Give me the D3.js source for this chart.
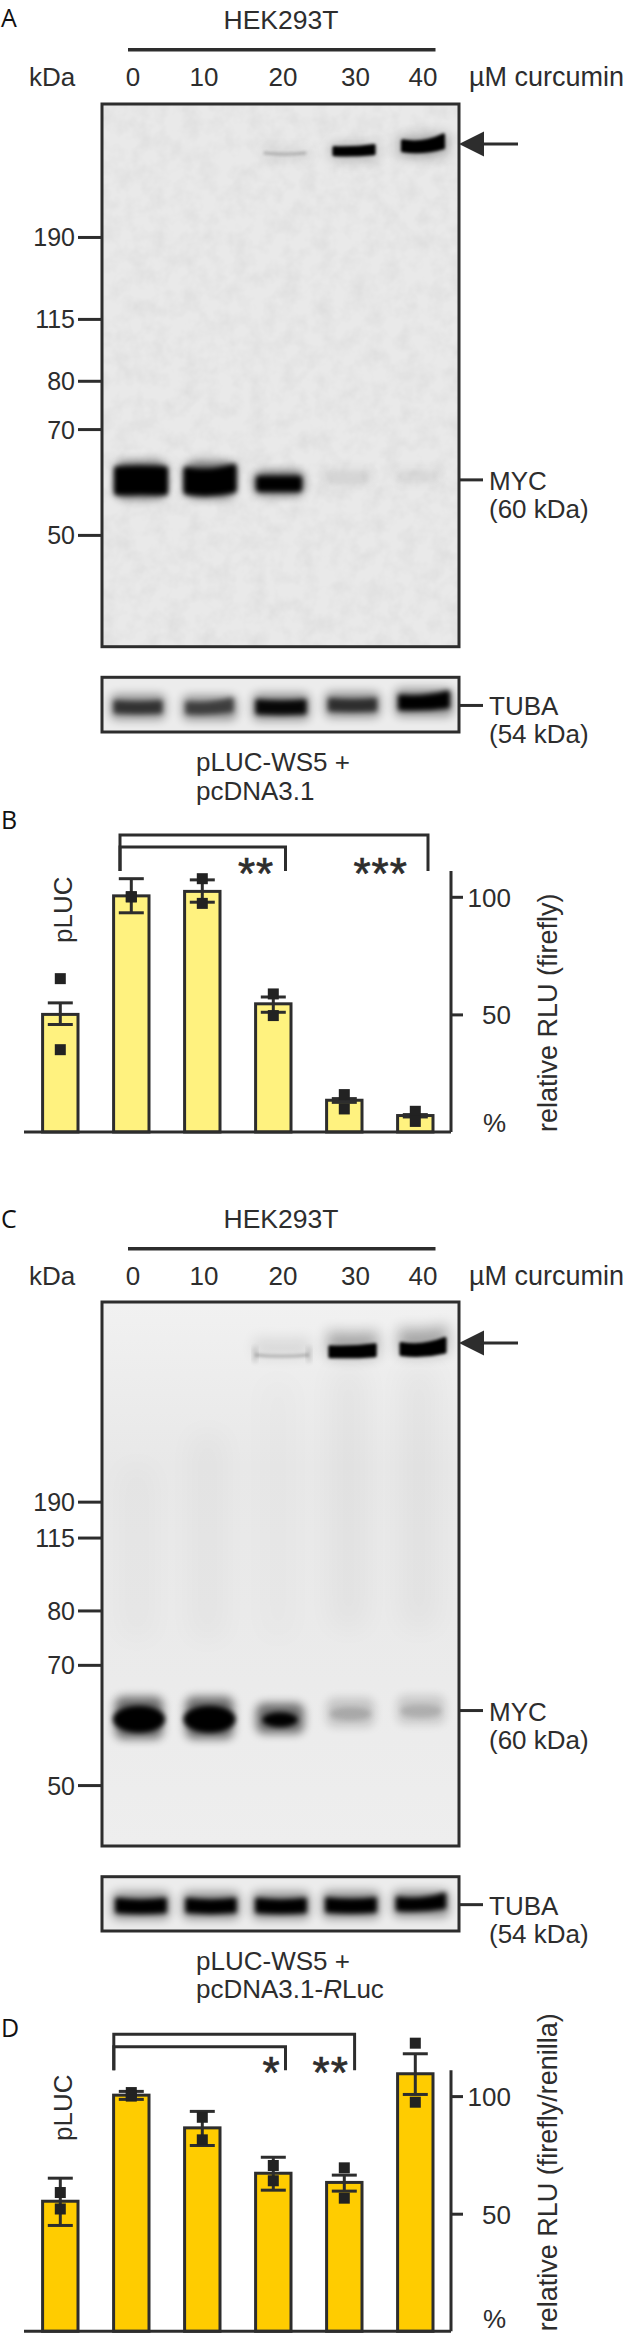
<!DOCTYPE html>
<html><head><meta charset="utf-8">
<script src="https://cdn.jsdelivr.net/npm/d3@7/dist/d3.min.js"></script>
<style>
html,body{margin:0;padding:0;background:#fff}
svg{display:block}
text{font-family:"Liberation Sans",Arial,sans-serif;fill:#2d2d2d}
.letter{font-family:"Open Sans",sans-serif;font-size:25px;fill:#111}
</style></head><body>
<script>
// ---------- data ----------
const doses = ["0","10","20","30","40"];
const markerLabels = ["190","115","80","70","50"];
const markerMigrationA = [.245,.396,.510,.599,.794];
const markerMigrationC = [.367,.433,.567,.667,.888];

const conjugateIntensityA = [0,0.01,.2,.6,1];
const conjugateMigrationA = [.09,.09,.09,.087,.077];
const mycIntensityA = [1,.97,.72,.05,.035];
const mycMigrationA = [.694,.694,.700,.688,.686];
const tubaIntensityA = [.62,.55,.9,.65,1];
const tubaMigrationA = [.54,.56,.54,.5,.46];

const conjugateIntensityC = [0,0.01,.2,.85,1];
const conjugateMigrationC = [.09,.09,.0974,.0913,.0864];
const mycIntensityC = [1,1,.72,.22,.2];
const mycMigrationC = [.767,.767,.768,.757,.752];
const tubaIntensityC = [.95,.9,.95,.95,.8];
const tubaMigrationC = [.53,.53,.53,.52,.5];

const barLanes = ["a","b","c","d","e","f"];
const meanB = [50,100.4,102.3,54.5,13.5,7];
const lowB  = [45.7,93.2,97.7,50.9,12.6,6.4];
const highB = [54.9,107.7,107.2,57.4,14.2,7.4];
const pointsB1 = [65.2,100,107.7,58.7,15.9,8.8];
const pointsB2 = [35,100,97.2,49.5,9.8,4.5];

const meanD = [55.3,100.4,86.5,67.2,63.3,109.5];
const lowD  = [45,98.6,79,60,59.6,100.7];
const highD = [65.1,102,93.5,74,66.4,118];
const pointsD1 = [59,101.5,91,70.5,69.5,122.5];
const pointsD2 = [52,100,81.4,64,56.6,97.4];

const ink = "#2d2d2d";
const svg = d3.select("body").append("svg").attr("width",625).attr("height",2334);
const defs = svg.append("defs");
[["b1",1.4],["b2",2.4],["b3",5],["b35",7],["b4",14],["b5",24]].forEach(([id,s])=>{
  defs.append("filter").attr("id",id).attr("x","-60%").attr("y","-200%").attr("width","220%").attr("height","500%")
    .append("feGaussianBlur").attr("stdDeviation",s);
});
const noise = defs.append("filter").attr("id","noise").attr("x",0).attr("y",0).attr("width","100%").attr("height","100%");
noise.append("feTurbulence").attr("type","fractalNoise").attr("baseFrequency",".06").attr("numOctaves",3).attr("seed",4);
noise.append("feColorMatrix").attr("type","matrix").attr("values","0 0 0 0 0  0 0 0 0 0  0 0 0 0 0  .5 0 0 0 -.17");
const grad = defs.append("linearGradient").attr("id","bgC").attr("x1",0).attr("x2",0).attr("y1",0).attr("y2",1);
[[0,"#f1f1f1"],[.3,"#e8e8e8"],[.7,"#ebebeb"],[1,"#eeeeee"]].forEach(([o,c])=>grad.append("stop").attr("offset",o).attr("stop-color",c));

function label(sel,x,y,t,o={}){
  return sel.append("text").attr("x",x).attr("y",y).attr("font-size",o.size||26).attr("text-anchor",o.anchor||"start").text(t);
}
function letter(t,y){ svg.append("text").attr("class","letter").attr("x",1).attr("y",y).text(t); }
// a blot band: curved outline, right end lifted by "rise"
function bandPath(cx,cy,w,h,curve,rise){
  const l=cx-w/2,r=cx+w/2,t=cy-h/2,b=cy+h/2;
  return `M${l},${t}Q${cx},${t+curve} ${r},${t-rise}L${r},${b-rise*.5}Q${cx},${b+curve*.7} ${l},${b}Z`;
}
function band(g,cx,cy,w,h,o){
  return g.append("path").attr("d",bandPath(cx,cy,w,h,o.curve||0,o.rise||0)).attr("fill","#000")
    .attr("stroke","#000").attr("stroke-width",o.round||0).attr("stroke-linejoin","round")
    .attr("opacity",o.op).attr("filter",`url(#${o.blur})`);
}

function blot(opts){
  const {top,bottom,laneRange,conj,myc,markers,arrowFrac,mycTickFrac,noisy,clipId,smear} = opts;
  const x0=102,x1=459;
  const gy = d3.scaleLinear().domain([0,1]).range([top,bottom]);
  const lane = d3.scalePoint().domain(doses).range(laneRange);
  defs.append("clipPath").attr("id",clipId).append("rect").attr("x",x0).attr("y",top).attr("width",x1-x0).attr("height",bottom-top);
  svg.append("rect").attr("x",x0).attr("y",top).attr("width",x1-x0).attr("height",bottom-top).attr("fill",noisy?"#e9e9e9":"url(#bgC)");
  const g = svg.append("g").attr("clip-path",`url(#${clipId})`);
  if(noisy) g.append("rect").attr("x",x0).attr("y",top).attr("width",x1-x0).attr("height",bottom-top).attr("filter","url(#noise)").attr("opacity",.14);
  else smear.forEach((v,i)=>{
    if(v[0]<=0) return;
    g.append("rect").attr("x",lane(doses[i])-20).attr("y",gy(v[1])).attr("width",36).attr("height",gy(v[2])-gy(v[1]))
     .attr("fill","#000").attr("opacity",v[0]).attr("filter","url(#b4)");
  });
  // upper conjugate bands
  const cw = d3.scaleLinear().domain(opts.conjW[0]).range(opts.conjW[1]);
  const ch = d3.scaleSqrt().domain([0,1]).range([1,opts.conjH]);
  doses.forEach((d,i)=>{
    const v=conj.i[i]; if(v<=0.02) return;
    const cx=lane(d)+opts.conjShift, cy=gy(conj.m[i]);
    const w=cw(v),h=ch(v);
    band(g,cx,cy-opts.haloUp,w+2,h+opts.haloUp+4,{op:Math.min(opts.haloMax,v*.45),blur:"b35",curve:3,rise:v>.9?3:0});
    if(v<.5){
      band(g,cx,cy,w,h*.5,{op:v,blur:"b1",curve:3});
      if(opts.edgeMarks) [-w/2,w/2].forEach(dx=>g.append("rect").attr("x",cx+dx-1.5).attr("y",cy-8).attr("width",3).attr("height",15).attr("fill","#000").attr("opacity",.22).attr("filter","url(#b2)"));
    } else band(g,cx,cy,w-3,h-3,{op:1,blur:"b1",curve:v>.9?4:1,rise:v>.9?opts.conjRise:2,round:3});
  });
  // myc bands
  const mw = d3.scaleLinear().domain([0,.3,.7,1]).range(opts.mycW);
  const mh = d3.scaleLinear().domain([0,.3,.7,1]).range(opts.mycH);
  const haloOp = v=>v>.5?.55:v*.75;
  doses.forEach((d,i)=>{
    const v=myc.i[i], cx=lane(d), cy=gy(myc.m[i]);
    const w=mw(v),h=mh(v);
    g.append("rect").attr("x",cx-opts.haloW/2).attr("y",cy-h/2-opts.haloH).attr("width",opts.haloW).attr("height",h+opts.haloH*1.7).attr("rx",8)
      .attr("fill","#000").attr("opacity",haloOp(v)).attr("filter","url(#b3)");
    if(opts.mycEllipse) g.append("ellipse").attr("cx",cx).attr("cy",cy).attr("rx",w/2).attr("ry",h/2).attr("fill","#000").attr("opacity",v>.5?1:v*.6).attr("filter","url(#b2)");
    else band(g,cx,cy,w-6,h-6,{op:v>.5?1:v*.7,blur:"b2",round:6,curve:i==1?5:(i==0?-1:0),rise:i==1?3:0});
  });
  svg.append("rect").attr("x",x0).attr("y",top).attr("width",x1-x0).attr("height",bottom-top)
    .attr("fill","none").attr("stroke",ink).attr("stroke-width",3);
  // marker axis
  const ax = d3.axisLeft(gy).tickValues(markers).tickSize(24).tickFormat((d,i)=>markerLabels[i]);
  const ag = svg.append("g").attr("transform",`translate(${x0},0)`).call(ax);
  ag.select(".domain").remove();
  ag.selectAll(".tick line").attr("stroke",ink).attr("stroke-width",3);
  ag.selectAll(".tick text").attr("font-size",25).attr("font-family",null).attr("fill",ink).attr("x",-27).attr("dy","0.36em");
  // arrow
  const ay=gy(arrowFrac);
  svg.append("path").attr("d",d3.line()([[459,ay],[484,ay-12.5],[484,ay+12.5]])+"Z").attr("fill",ink);
  svg.append("line").attr("x1",480).attr("x2",518).attr("y1",ay).attr("y2",ay).attr("stroke",ink).attr("stroke-width",3);
  // myc label
  const my=gy(mycTickFrac);
  svg.append("line").attr("x1",459).attr("x2",483).attr("y1",my).attr("y2",my).attr("stroke",ink).attr("stroke-width",3);
  label(svg,489,my+10,"MYC");
  label(svg,489,my+38,"(60 kDa)");
  return gy;
}
function tuba(top,bottom,mig,ints,range,clipId,sharp){
  const x0=102,x1=459;
  const gy=d3.scaleLinear().domain([0,1]).range([top,bottom]);
  const lane=d3.scalePoint().domain(doses).range(range);
  defs.append("clipPath").attr("id",clipId).append("rect").attr("x",x0).attr("y",top).attr("width",x1-x0).attr("height",bottom-top);
  svg.append("rect").attr("x",x0).attr("y",top).attr("width",x1-x0).attr("height",bottom-top).attr("fill","#ececec");
  const g=svg.append("g").attr("clip-path",`url(#${clipId})`);
  const w=d3.scaleLinear().domain([0,1]).range([44,52]);
  const h=d3.scaleLinear().domain([0,1]).range([9,16]);
  doses.forEach((d,i)=>{
    const v=ints[i],cx=lane(d),cy=gy(mig[i]);
    g.append("rect").attr("x",cx-w(v)/2-3).attr("y",cy-h(v)/2-6).attr("width",w(v)+6).attr("height",h(v)+12).attr("rx",6).attr("fill","#000").attr("opacity",.38).attr("filter","url(#b3)");
    band(g,cx,cy,w(v)-4,h(v)-4,{op:sharp?1:Math.min(1,v*1.05),blur:"b2",round:4,curve:sharp?3:2,rise:(i==4||(!sharp&&i==1))?4:0});
  });
  svg.append("rect").attr("x",x0).attr("y",top).attr("width",x1-x0).attr("height",bottom-top).attr("fill","none").attr("stroke",ink).attr("stroke-width",3);
  const ty=(top+bottom)/2+.8;
  svg.append("line").attr("x1",459).attr("x2",483).attr("y1",ty).attr("y2",ty).attr("stroke",ink).attr("stroke-width",3);
  label(svg,489,ty+10,"TUBA");
  label(svg,489,ty+38,"(54 kDa)");
}
function header(base,lineY,labY){
  label(svg,281,base,"HEK293T",{anchor:"middle",size:26.5});
  svg.append("line").attr("x1",128).attr("x2",435.5).attr("y1",lineY).attr("y2",lineY).attr("stroke",ink).attr("stroke-width",3.4);
  label(svg,29,labY,"kDa");
  const lx=d3.scalePoint().domain(doses).range([133,423]);
  const nudge=[0,-1.5,5,5,0];
  doses.forEach((d,i)=>label(svg,lx(d)+nudge[i],labY,d,{anchor:"middle"}));
  label(svg,469,labY,"µM curcumin",{size:27});
}
function barChart(o){
  const y=d3.scaleLinear().domain([0,111]).range([o.base,o.base-111*2.352]);
  const x=d3.scalePoint().domain(barLanes).range([60.3,415.3]);
  const g=svg.append("g");
  g.selectAll("rect").data(o.mean).join("rect")
    .attr("x",(d,i)=>x(barLanes[i])-17.7).attr("width",35.4)
    .attr("y",d=>y(d)).attr("height",d=>y(0)-y(d))
    .attr("fill",o.fill).attr("stroke",ink).attr("stroke-width",3);
  svg.append("line").attr("x1",24).attr("x2",451).attr("y1",y(0)).attr("y2",y(0)).attr("stroke",ink).attr("stroke-width",3);
  const eg=svg.append("g").attr("stroke",ink).attr("stroke-width",3);
  o.mean.forEach((m,i)=>{
    const cx=x(barLanes[i]);
    eg.append("line").attr("x1",cx).attr("x2",cx).attr("y1",y(o.low[i])).attr("y2",y(o.high[i]));
    [o.low[i],o.high[i]].forEach(v=>eg.append("line").attr("x1",cx-12.5).attr("x2",cx+12.5).attr("y1",y(v)).attr("y2",y(v)));
    [o.p1[i],o.p2[i]].forEach(v=>svg.append("rect").attr("x",cx-5.5).attr("y",y(v)-5.5).attr("width",11).attr("height",11).attr("fill","#222"));
  });
  const ax=d3.axisRight(y).tickValues([50,100]).tickSize(12).tickFormat(d3.format("d"));
  const ag=svg.append("g").attr("transform","translate(451,0)").call(ax);
  ag.select(".domain").attr("stroke",ink).attr("stroke-width",3).attr("d",`M0,${y(111)}V${y(0)}`);
  ag.selectAll(".tick line").attr("stroke",ink).attr("stroke-width",3);
  ag.selectAll(".tick text").attr("font-size",26).attr("font-family",null).attr("fill",ink).attr("text-anchor","end").attr("x",60).attr("dy","0.36em");
  label(svg,483,y(0)+o.pctShift,"%");
  const rot=(bx,by,sz)=>svg.append("text").attr("font-size",sz).attr("transform",`translate(${bx},${by}) rotate(-90)`);
  rot(557,y(0),27).text(o.ylabel);
  rot(72,o.plucY,26).text("pLUC");
  // brackets
  const br=(l,r,t)=>svg.append("path").attr("d",`M${l},${y(111)}V${t}H${r}V${y(111)}`).attr("fill","none").attr("stroke",ink).attr("stroke-width",3);
  o.brackets.forEach(b=>br(b[0],b[1],y(111)-b[2]));
  o.stars.forEach(s=>svg.append("text").attr("x",s[0]).attr("y",y(111)+18).attr("font-size",44).attr("text-anchor","middle").attr("letter-spacing",1)
    .attr("stroke",ink).attr("stroke-width",.7).text(s[1]));
}

// ---------- panel A ----------
letter("A",27);
header(29,49.7,86);
blot({top:104,bottom:646.7,laneRange:[141,417],conj:{i:conjugateIntensityA,m:conjugateMigrationA},myc:{i:mycIntensityA,m:mycMigrationA},
  markers:markerMigrationA,arrowFrac:.0737,mycTickFrac:.6926,noisy:true,clipId:"ca",conjShift:6,conjH:13,conjW:[[0,1],[42,44]],conjRise:6,haloUp:0,haloMax:.42,
  mycW:[40,42,45,54],mycH:[12,13,15,29],haloW:50,haloH:5,mycEllipse:false});
tuba(677.3,732,tubaMigrationA,tubaIntensityA,[138,424],"ta",false);
label(svg,196,771,"pLUC-WS5 +");
label(svg,196,800,"pcDNA3.1");

// ---------- panel B ----------
letter("B",829);
barChart({base:1132,pctShift:0,fill:"#fff27f",mean:meanB,low:lowB,high:highB,p1:pointsB1,p2:pointsB2,
  ylabel:"relative RLU (firefly)",plucY:943,
  brackets:[[120,428,36],[120,285.5,24]],stars:[[256,"**"],[380.6,"***"]]});

// ---------- panel C ----------
letter("C",1228);
header(1228,1248.7,1285);
blot({top:1302,bottom:1846,laneRange:[139,421],conj:{i:conjugateIntensityC,m:conjugateMigrationC},myc:{i:mycIntensityC,m:mycMigrationC},
  markers:markerMigrationC,arrowFrac:.0754,mycTickFrac:.751,noisy:false,clipId:"cc",conjShift:2,conjH:14,conjW:[[.2,1],[54,47]],conjRise:5,haloUp:8,haloMax:.3,edgeMarks:true,
  mycW:[40,42,34,52],mycH:[12,14,14,27],haloW:48,haloH:9,mycEllipse:true,
  smear:[[.018,.3,.62],[.022,.24,.62],[.012,.14,.62],[.03,.12,.6],[.03,.12,.6]]});
tuba(1876.7,1931,tubaMigrationC,tubaIntensityC,[141,421],"tc",true);
label(svg,196,1969.5,"pLUC-WS5 +");
const rl=label(svg,196,1998,"pcDNA3.1-");
rl.append("tspan").attr("font-style","italic").text("R");
rl.append("tspan").text("Luc");

// ---------- panel D ----------
letter("D",2037);
barChart({base:2331.3,pctShift:-3,fill:"#ffcc00",mean:meanD,low:lowD,high:highD,p1:pointsD1,p2:pointsD2,
  ylabel:"relative RLU (firefly/renilla)",plucY:2141,
  brackets:[[113.8,354.6,36],[113.8,285.5,23.5]],stars:[[271.6,"*"],[330.7,"**"]]});
</script>
</body></html>
